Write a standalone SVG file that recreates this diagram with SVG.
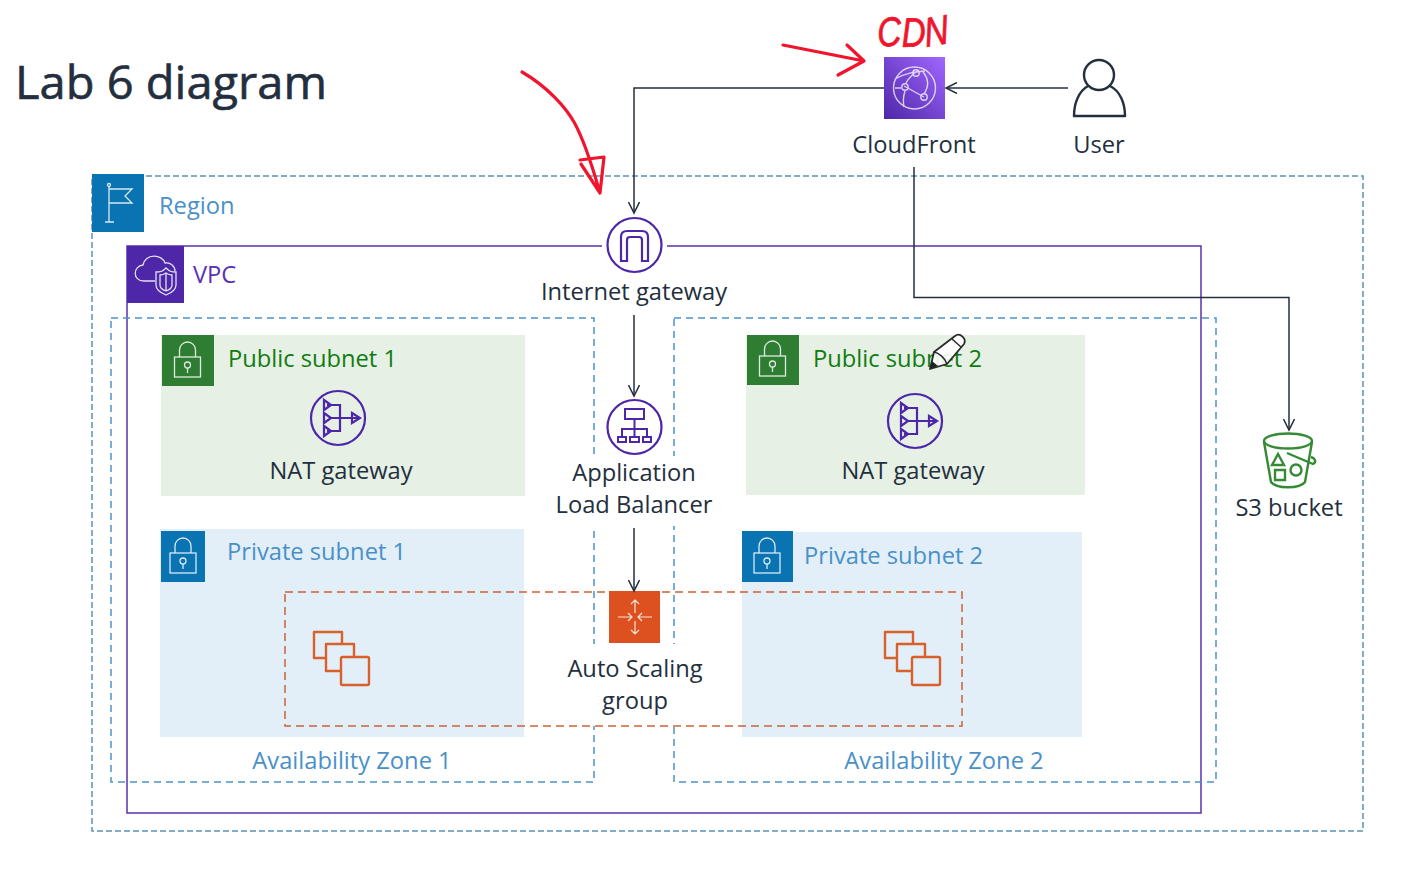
<svg xmlns="http://www.w3.org/2000/svg" width="1415" height="869" viewBox="0 0 1415 869">
<style>
text{font-family:"Open Sans","Noto Sans","Liberation Sans",sans-serif;font-size:23.700px;fill:#232f3e}
.m{text-anchor:middle}
.blue{fill:#4a90c8}
.green{fill:#107c10}
.purple{fill:#5a30b5}
.conn{fill:none;stroke:#232f3e;stroke-width:1.5}
.ink{fill:none;stroke:#f0142d;stroke-width:3.2;stroke-linecap:round;stroke-linejoin:round}
.wi{fill:none;stroke:#fff;stroke-width:1.3;opacity:.85}
.pi{fill:none;stroke:#4d27aa;stroke-width:2.2}
.oi{fill:none;stroke:#d9602b;stroke-width:2.4;stroke-linejoin:round}
.az{fill:none;stroke:#4f93c9;stroke-width:1.5;stroke-dasharray:7 5}
</style>
<defs>
<linearGradient id="cf" x1="0" y1="1" x2="1" y2="0"><stop offset="0" stop-color="#4d27a8"/><stop offset="1" stop-color="#a166ff"/></linearGradient>
<marker id="arr" viewBox="0 0 14 12" refX="12" refY="6" markerWidth="14" markerHeight="12" orient="auto" markerUnits="userSpaceOnUse"><path d="M1 .5 12 6 1 11.5" fill="none" stroke="#232f3e" stroke-width="1.5"/></marker>
<g id="lock"><path d="M-8-7V-14A8 8 0 0 1 8-14V-7"/><rect x="-13" y="-7" width="26" height="20"/><circle cx="0" cy="1" r="3"/><path d="M0 4V9"/></g>
<g id="nat"><circle r="27"/><path d="M-11-13H2V13H-11M-9 0H21M2 0H12"/><path d="M-14-18-7-13-14-8ZM-14-5-7 0-14 5ZM-14 8-7 13-14 18ZM14-5 22 0 14 5Z"/></g>
<g id="ec2"><path d="M28 12V1H0V27H12"/><path d="M40 26V13H12V40H27"/><rect x="27" y="26" width="28" height="28" rx="1.500"/></g>
</defs>

<rect width="1415" height="869" fill="#fff"/>
<g id="title"><text x="15" y="99" style="font-size:46px;stroke:#232f3e;stroke-width:.6" textLength="312" lengthAdjust="spacingAndGlyphs">Lab 6 diagram</text></g>

<g id="region">
<rect x="92" y="176" width="1271" height="655" fill="none" stroke="#5b93b5" stroke-width="1.5" stroke-dasharray="6 3"/>
<rect x="92" y="174" width="52" height="58" fill="#0a73b2"/>
<g class="wi"><path d="M109 186V222M105 222H114M109 189H132L125 196 132 203H109"/><circle cx="109" cy="185" r="1.500"/></g>
<text x="159" y="214" class="blue">Region</text>
</g>

<g id="vpc">
<rect x="127" y="246" width="1074" height="567" fill="none" stroke="#5a30a8" stroke-width="1.5"/>
<rect x="127" y="246" width="57" height="57" fill="#4d27a8"/>
<g class="wi"><path d="M155 281H144C132 281 133 266 143 265 146 253 162 254 165 263 170 262 175 266 175 271"/><path d="M166 268C162 272 160 272 156 272V285C156 290 161 293 166 295 171 293 176 290 176 285V272C172 272 170 272 166 268Z"/><path d="M166 273C163 275 162 275 160 275V285C160 288 163 290 166 291 169 290 172 288 172 285V275C170 275 169 275 166 273ZM166 273V291"/></g>
<text x="193" y="283" class="purple">VPC</text>
</g>

<g id="az1"><rect x="111" y="318" width="483" height="464" class="az"/></g>
<g id="az2"><rect x="674" y="318" width="542" height="464" class="az"/></g>
<rect x="540" y="456" width="190" height="70" fill="#fff"/>
<rect x="560" y="644" width="160" height="82" fill="#fff"/>

<g id="public-subnet-1">
<rect x="161" y="335" width="364" height="161" fill="#e6f0e4"/>
<rect x="162" y="335" width="52" height="51" fill="#2e7d32"/>
<use href="#lock" x="187.500" y="364" class="wi"/>
<text x="228" y="367" class="green">Public subnet 1</text>
</g>
<g id="nat-gateway-1">
<use href="#nat" x="338" y="418" class="pi"/>
<text x="341" y="479" class="m">NAT gateway</text>
</g>

<g id="public-subnet-2">
<rect x="746" y="335" width="339" height="160" fill="#e6f0e4"/>
<rect x="747" y="335" width="52" height="50" fill="#2e7d32"/>
<use href="#lock" x="772.500" y="363" class="wi"/>
<text x="813" y="367" class="green">Public subnet 2</text>
</g>
<g id="nat-gateway-2">
<use href="#nat" x="915" y="421" class="pi"/>
<text x="913" y="479" class="m">NAT gateway</text>
</g>

<g id="private-subnet-1">
<rect x="160" y="529" width="364" height="208" fill="#e2eff8"/>
<rect x="161" y="531" width="44" height="51" fill="#0a73b2"/>
<use href="#lock" x="183" y="560" class="wi"/>
<text x="227" y="560" class="blue">Private subnet 1</text>
</g>
<g id="private-subnet-2">
<rect x="742" y="532" width="340" height="205" fill="#e2eff8"/>
<rect x="742" y="531" width="51" height="51" fill="#0a73b2"/>
<use href="#lock" x="767" y="560" class="wi"/>
<text x="804" y="564" class="blue">Private subnet 2</text>
</g>

<g id="asg">
<rect x="285" y="592" width="677" height="134" fill="none" stroke="#cf6236" stroke-width="1.5" stroke-dasharray="8 5"/>
<rect x="609" y="591" width="51" height="52" fill="#dd5020"/>
<path d="M635 600V613M631 604 635 600 639 604M635 621V634M631 630 635 634 639 630M618 617H632M628 613 632 617 628 621M652 617H638M642 613 638 617 642 621" fill="none" stroke="#fff" stroke-width="1.2" opacity=".85"/>
<text x="635" y="677" class="m">Auto Scaling</text>
<text x="635" y="709" class="m">group</text>
</g>
<g id="ec2-1"><use href="#ec2" x="314" y="631" class="oi"/></g>
<g id="ec2-2"><use href="#ec2" x="885" y="631" class="oi"/></g>

<g id="connectors">
<path class="conn" d="M884 88H634V213" marker-end="url(#arr)"/>
<path class="conn" d="M1068 88H946" marker-end="url(#arr)"/>
<path class="conn" d="M914 167V297.500H1289V430" marker-end="url(#arr)"/>
<path class="conn" d="M634 315V396" marker-end="url(#arr)"/>
<path class="conn" d="M634 528V591" marker-end="url(#arr)"/>
</g>

<g id="internet-gateway">
<rect x="602" y="240" width="65" height="10" fill="#fff"/>
<circle cx="634.500" cy="245" r="27" fill="#fff" stroke="#4d27aa" stroke-width="2.2"/>
<path d="M621 261V237Q621 231 627 231H642Q648 231 648 237V261H642V240Q642 237 639 237H630Q627 237 627 240V261Z" fill="none" stroke="#4d27aa" stroke-width="2.2"/>
<text x="634" y="300" class="m">Internet gateway</text>
</g>

<g id="alb">
<circle cx="634.500" cy="427" r="27" fill="#fff" stroke="#4d27aa" stroke-width="2.2"/>
<path d="M625 409H644V419H625ZM634.500 419V429M622 437V429H647V437M634.500 429V437M618 437H626V442H618ZM630 437H639V442H630ZM643 437H651V442H643Z" fill="none" stroke="#4d27aa" stroke-width="2"/>
<text x="634" y="481" class="m">Application</text>
<text x="634" y="513" class="m">Load Balancer</text>
</g>

<g id="cloudfront">
<rect x="884" y="57" width="61" height="62" fill="url(#cf)"/>
<g fill="none" stroke="#fff" stroke-width="1.4" opacity=".75"><circle cx="914.500" cy="88" r="21"/><path d="M895 79C905 73 915 72 925 71M904 86 924 97M905 91C903 97 903 102 904 107M917 71C912 75 908 79 906 83M923 72C928 78 930 85 924 94M895 88H901"/><circle cx="916" cy="73" r="3.200"/><circle cx="905" cy="87" r="3.200"/><circle cx="924" cy="97" r="3.200"/></g>
<text x="914" y="153" class="m">CloudFront</text>
</g>

<g id="user">
<circle cx="1099" cy="75" r="15" fill="none" stroke="#232f3e" stroke-width="2.400"/>
<path d="M1088 86C1079 91 1074 103 1074 116H1125C1125 103 1120 91 1110 86" fill="none" stroke="#232f3e" stroke-width="2.400" stroke-linejoin="round"/>
<text x="1099" y="153" class="m">User</text>
</g>

<g id="s3">
<g fill="none" stroke="#348a35" stroke-width="2.400">
<ellipse cx="1288" cy="441" rx="24" ry="7.500"/>
<path d="M1264 442 1271 482C1276 489 1300 489 1305 482L1312 442"/>
<path d="M1272 465 1278 454 1284 465ZM1275 470H1285V480H1275Z"/>
<circle cx="1296" cy="470" r="5.500"/>
<path d="M1287 453 1313 464C1317 462 1315 458 1311 457"/>
</g>
<text x="1289" y="516" class="m">S3 bucket</text>
</g>

<g id="annotations">
<path class="ink" d="M522 72C548 87 566 108 574 122 583 138 590 158 600 193L604 157 580 160M581 164 600 193"/>
<path class="ink" d="M783 45 864 61M847 45 864 61 838 75"/>
<text x="878" y="47" rotate="-4 -2 -8" style="font-family:'Liberation Sans',sans-serif;font-size:41px;font-style:italic;fill:#f0142d;stroke:#f0142d;stroke-width:.8" textLength="72" lengthAdjust="spacingAndGlyphs">CDN</text>
<g id="pencil"><path d="M930 369 934 352 955 336C960 332 967 339 964 344L947 364Z" fill="#fff" fill-opacity=".9" stroke="#2a2a2a" stroke-width="1.800" stroke-linejoin="round"/><path d="M934 352C939 353 945 358 947 364M952 339 961 347" fill="none" stroke="#2a2a2a" stroke-width="1.500"/><path d="M930 369 938 366 932 361Z" fill="#222"/></g>
</g>

<g id="zones-labels">
<text x="352" y="769" class="blue m">Availability Zone 1</text>
<text x="944" y="769" class="blue m">Availability Zone 2</text>
</g>
</svg>
